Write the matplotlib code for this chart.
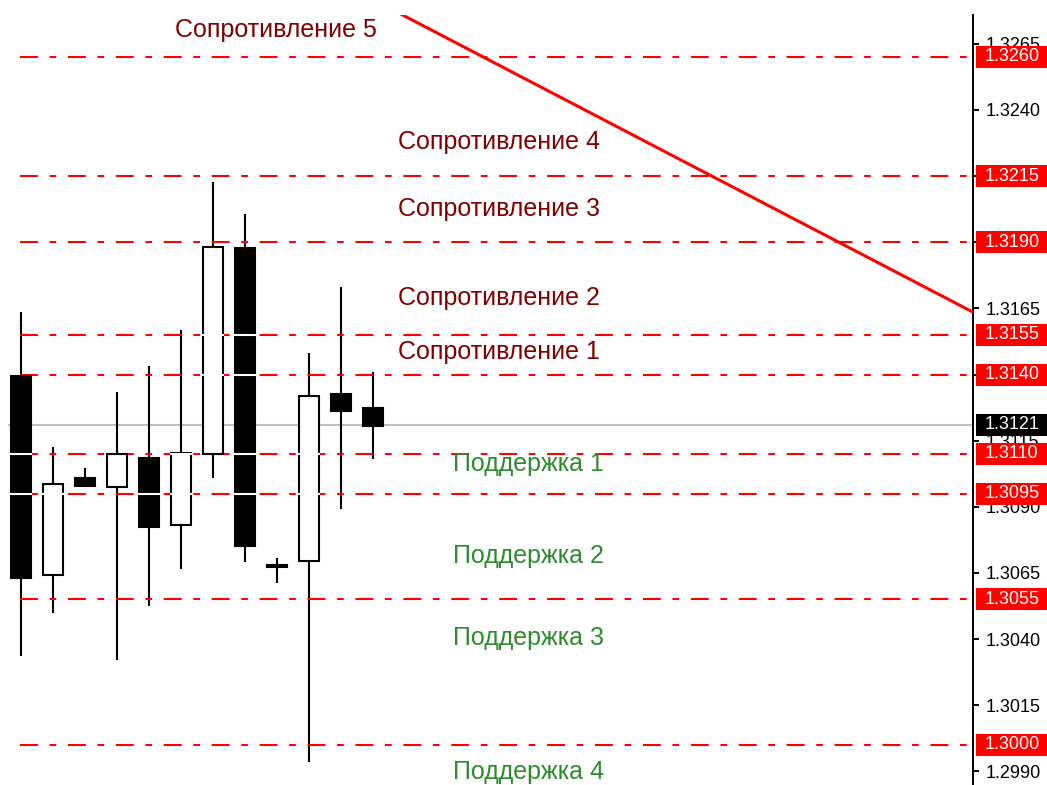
import matplotlib
matplotlib.use("Agg")
from matplotlib import pyplot as plt
from matplotlib.patches import Rectangle
import numpy as np

# candles (oldest -> newest)
opens = [1.31394, 1.30642, 1.31009, 1.30975, 1.31085, 1.30831, 1.31100, 1.31878, 1.30680, 1.30695, 1.31326, 1.31273]
highs = [1.31636, 1.31126, 1.31047, 1.31334, 1.31432, 1.31568, 1.32128, 1.32007, 1.30707, 1.31481, 1.31731, 1.31410]
lows = [1.30336, 1.30499, 1.30979, 1.30321, 1.30525, 1.30665, 1.31009, 1.30691, 1.30612, 1.29936, 1.30892, 1.31081]
closes = [1.30631, 1.30986, 1.30979, 1.31100, 1.30824, 1.31103, 1.31882, 1.30752, 1.30672, 1.31319, 1.31262, 1.31205]

# support / resistance levels
levels = [1.3260, 1.3215, 1.3190, 1.3155, 1.3140, 1.3110, 1.3095, 1.3055, 1.3000]
current_price = 1.3121

# trend line (candle index, price)
trend_x = [10, 30]
trend_y = [1.3288, 1.3162]

# level captions
res_names = ["Сопротивление 5", "Сопротивление 4", "Сопротивление 3", "Сопротивление 2", "Сопротивление 1"]
res_y = [1.32702, 1.32279, 1.32026, 1.31689, 1.31485]
sup_names = ["Поддержка 1", "Поддержка 2", "Поддержка 3", "Поддержка 4"]
sup_y = [1.31062, 1.30714, 1.30404, 1.29898]

ticks = [1.2990 + 0.0025 * k for k in range(12)]

plt.rcParams['font.family'] = ['Liberation Sans', 'DejaVu Sans']

fig = plt.figure(figsize=(10.47, 7.85), dpi=100)
ax = fig.add_axes([0, 0, 973 / 1047, 1 - 15 / 785])
ax.set_xlim(-0.656, 29.75)
ax.set_ylim(1.298488, 1.327587)

for s in ["left", "top", "bottom"]:
    ax.spines[s].set_visible(False)
ax.spines["right"].set_linewidth(1.4)
ax.set_xticks([])
ax.yaxis.tick_right()
ax.set_yticks(ticks)
ax.set_yticklabels(["%.4f" % t for t in ticks])
ax.tick_params(axis="y", labelsize=13, length=4, width=1.4, pad=5)

w = 0.625
n = len(opens)
xs = np.arange(n)

# wicks
ax.vlines(xs, lows, highs, colors="black", linewidth=1.5, zorder=2)

# levels
ax.hlines(levels, -0.03, 29.75, colors="red", linewidth=1.5,
          linestyles=[(0, (8.6, 5.6, 3.2, 5.6))], zorder=3)
ax.hlines(current_price, -0.4, 29.75, colors="#c0c0c0", linewidth=1.5, zorder=1)

# bodies
for i in range(n):
    o, c = opens[i], closes[i]
    lo, hi = min(o, c), max(o, c)
    fc = "white" if c > o else "black"
    ax.add_patch(Rectangle((i - w / 2, lo), w, hi - lo, facecolor=fc,
                           edgecolor="black", linewidth=1.5, zorder=4))
    for lv in levels:
        if lo < lv < hi:
            ax.plot([i - w / 2 - 0.03, i + w / 2 + 0.03], [lv, lv], color="white",
                    linewidth=1.5, zorder=5, solid_capstyle="butt")

# trend line
ax.plot(trend_x, trend_y, color="red", linewidth=2.2, zorder=6)

for name, y in zip(res_names, res_y):
    x0 = 4.81 if name.endswith("5") else 11.78
    ax.text(x0, y, name, color="#800000", fontsize=18, va="center", ha="left",
            clip_on=False, zorder=7)
for name, y in zip(sup_names, sup_y):
    ax.text(13.5, y, name, color="#2e8b2e", fontsize=18, va="center", ha="left",
            clip_on=False, zorder=7)

# price labels on the axis
tr = ax.get_yaxis_transform()
bh = 0.00083
for lv in levels + [current_price]:
    fc = "black" if lv == current_price else "red"
    ax.add_patch(Rectangle((1.003, lv - bh / 2), 0.08, bh, transform=tr,
                           facecolor=fc, edgecolor="none", clip_on=False, zorder=10))
    ax.text(1.012, lv, "%.4f" % lv, transform=tr, color="white", fontsize=13,
            va="center", ha="left", clip_on=False, zorder=11)

fig.savefig("out.png", dpi=100)
